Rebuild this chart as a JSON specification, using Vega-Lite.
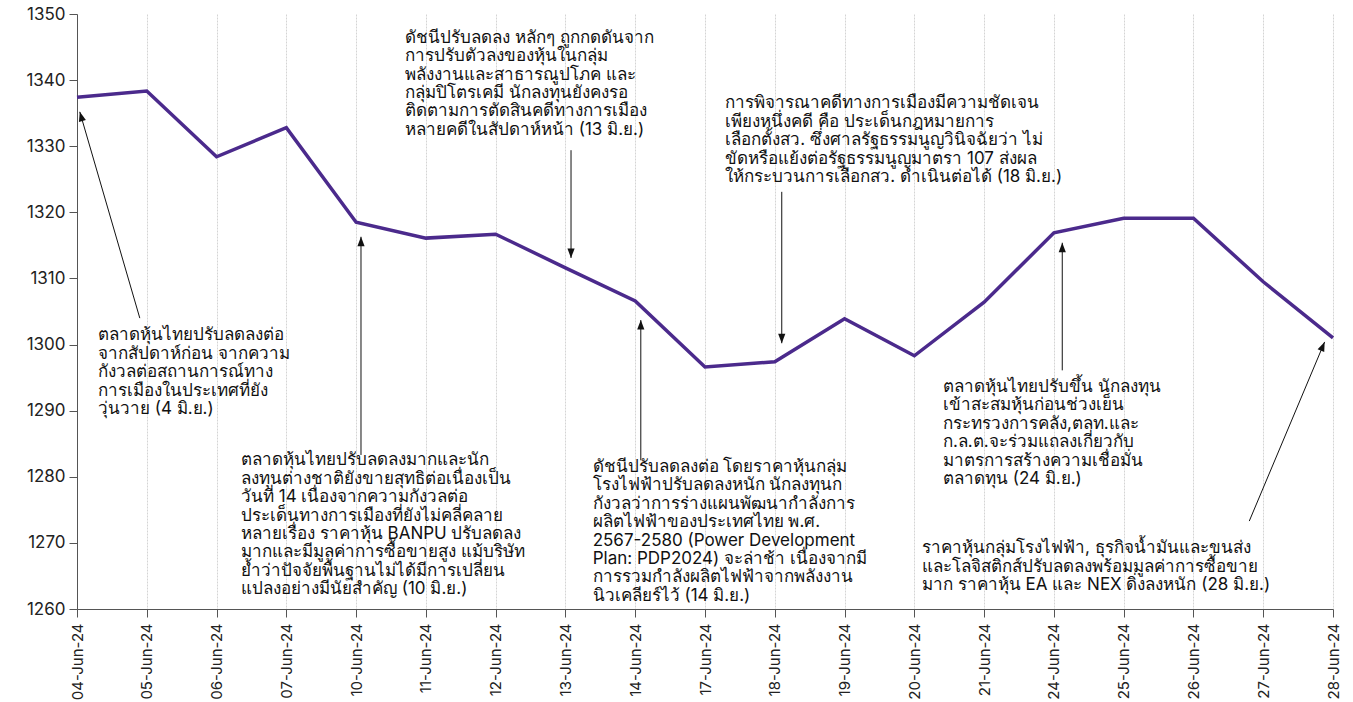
{
  "$schema": "https://vega.github.io/schema/vega-lite/v6.json",
  "width": 1256,
  "height": 595,
  "autosize": {"type": "none"},
  "padding": {"left": 77, "top": 14, "right": 20, "bottom": 93},
  "config": {"view": {"stroke": null}, "font": "Inter"},
  "datasets": {
    "series": [
      {"i": 0, "date": "04-Jun-24", "value": 1337.4},
      {"i": 1, "date": "05-Jun-24", "value": 1338.35},
      {"i": 2, "date": "06-Jun-24", "value": 1328.4},
      {"i": 3, "date": "07-Jun-24", "value": 1332.8},
      {"i": 4, "date": "10-Jun-24", "value": 1318.5},
      {"i": 5, "date": "11-Jun-24", "value": 1316.1},
      {"i": 6, "date": "12-Jun-24", "value": 1316.7},
      {"i": 7, "date": "13-Jun-24", "value": 1311.6},
      {"i": 8, "date": "14-Jun-24", "value": 1306.6},
      {"i": 9, "date": "17-Jun-24", "value": 1296.6},
      {"i": 10, "date": "18-Jun-24", "value": 1297.4},
      {"i": 11, "date": "19-Jun-24", "value": 1303.9},
      {"i": 12, "date": "20-Jun-24", "value": 1298.3},
      {"i": 13, "date": "21-Jun-24", "value": 1306.4},
      {"i": 14, "date": "24-Jun-24", "value": 1316.9},
      {"i": 15, "date": "25-Jun-24", "value": 1319.1},
      {"i": 16, "date": "26-Jun-24", "value": 1319.1},
      {"i": 17, "date": "27-Jun-24", "value": 1309.5},
      {"i": 18, "date": "28-Jun-24", "value": 1301.0}
    ],
    "arrows": [
      {"id": "a4", "x0": 0.9, "y0": 1304.0, "x1": 0.04, "y1": 1335.2},
      {"id": "a10", "x0": 4.07, "y0": 1283.3, "x1": 4.07, "y1": 1316.3},
      {"id": "a13", "x0": 7.08, "y0": 1329.4, "x1": 7.08, "y1": 1313.1},
      {"id": "a14", "x0": 8.08, "y0": 1282.5, "x1": 8.08, "y1": 1303.7},
      {"id": "a18", "x0": 10.1, "y0": 1323.1, "x1": 10.1, "y1": 1300.2},
      {"id": "a24", "x0": 14.12, "y0": 1296.1, "x1": 14.12, "y1": 1315.4},
      {"id": "a28", "x0": 16.8, "y0": 1273.3, "x1": 17.88, "y1": 1300.4}
    ],
    "notes": [
      {"x": 0.3, "y": 1302.6, "text": "ตลาดหุ้นไทยปรับลดลงต่อ\nจากสัปดาห์ก่อน จากความ\nกังวลต่อสถานการณ์ทาง\nการเมืองในประเทศที่ยัง\nวุ่นวาย (4 มิ.ย.)"},
      {"x": 2.35, "y": 1283.7, "text": "ตลาดหุ้นไทยปรับลดลงมากและนัก\nลงทุนต่างชาติยังขายสุทธิต่อเนื่องเป็น\nวันที่ 14 เนื่องจากความกังวลต่อ\nประเด็นทางการเมืองที่ยังไม่คลี่คลาย\nหลายเรื่อง ราคาหุ้น BANPU ปรับลดลง\nมากและมีมูลค่าการซื้อขายสูง แม้บริษัท\nย้ำว่าปัจจัยพื้นฐานไม่ได้มีการเปลี่ยน\nแปลงอย่างมีนัยสำคัญ (10 มิ.ย.)"},
      {"x": 4.7, "y": 1347.6, "text": "ดัชนีปรับลดลง หลักๆ ถูกกดดันจาก\nการปรับตัวลงของหุ้นในกลุ่ม\nพลังงานและสาธารณูปโภค และ\nกลุ่มปิโตรเคมี นักลงทุนยังคงรอ\nติดตามการตัดสินคดีทางการเมือง\nหลายคดีในสัปดาห์หน้า  (13 มิ.ย.)"},
      {"x": 7.39, "y": 1282.7, "text": "ดัชนีปรับลดลงต่อ โดยราคาหุ้นกลุ่ม\nโรงไฟฟ้าปรับลดลงหนัก นักลงทุนก\nกังวลว่าการร่างแผนพัฒนากำลังการ\nผลิตไฟฟ้าของประเทศไทย พ.ศ.\n2567-2580 (Power Development\nPlan: PDP2024) จะล่าช้า เนื่องจากมี\nการรวมกำลังผลิตไฟฟ้าจากพลังงาน\nนิวเคลียร์ไว้ (14 มิ.ย.)"},
      {"x": 9.29, "y": 1337.7, "text": "การพิจารณาคดีทางการเมืองมีความชัดเจน\nเพียงหนึ่งคดี คือ ประเด็นกฎหมายการ\nเลือกตั้งสว. ซึ่งศาลรัฐธรรมนูญวินิจฉัยว่า ไม่\nขัดหรือแย้งต่อรัฐธรรมนูญมาตรา 107 ส่งผล\nให้กระบวนการเลือกสว. ดำเนินต่อได้ (18 มิ.ย.)"},
      {"x": 12.41, "y": 1294.8, "text": "ตลาดหุ้นไทยปรับขึ้น นักลงทุน\nเข้าสะสมหุ้นก่อนช่วงเย็น\nกระทรวงการคลัง,ตลท.และ\nก.ล.ต.จะร่วมแถลงเกี่ยวกับ\nมาตรการสร้างความเชื่อมั่น\nตลาดทุน (24 มิ.ย.)"},
      {"x": 12.11, "y": 1270.4, "text": "ราคาหุ้นกลุ่มโรงไฟฟ้า, ธุรกิจน้ำมันและขนส่ง\nและโลจิสติกส์ปรับลดลงพร้อมมูลค่าการซื้อขาย\nมาก  ราคาหุ้น EA และ NEX ดิ่งลงหนัก (28 มิ.ย.)"}
    ]
  },
  "layer": [
    {
      "data": {"name": "series"},
      "mark": {"type": "line", "color": "#4b2a8c", "strokeWidth": 3.5},
      "encoding": {
        "x": {
          "field": "i", "type": "quantitative", "title": null,
          "scale": {"domain": [0, 18], "nice": false, "zero": false},
          "axis": {
            "values": [0,1,2,3,4,5,6,7,8,9,10,11,12,13,14,15,16,17,18],
            "labelExpr": "['04-Jun-24','05-Jun-24','06-Jun-24','07-Jun-24','10-Jun-24','11-Jun-24','12-Jun-24','13-Jun-24','14-Jun-24','17-Jun-24','18-Jun-24','19-Jun-24','20-Jun-24','21-Jun-24','24-Jun-24','25-Jun-24','26-Jun-24','27-Jun-24','28-Jun-24'][datum.value]",
            "labelAngle": -90, "labelAlign": "right", "labelBaseline": "middle",
            "labelFontSize": 15, "labelColor": "#222", "labelPadding": 6,
            "tickSize": 8, "tickColor": "#555", "domainColor": "#555",
            "grid": true, "gridColor": "#d4d4d4", "gridDash": [2, 1],
            "labelFlush": false, "labelOverlap": false
          }
        },
        "y": {
          "field": "value", "type": "quantitative", "title": null,
          "scale": {"domain": [1260, 1350], "nice": false, "zero": false},
          "axis": {
            "values": [1260,1270,1280,1290,1300,1310,1320,1330,1340,1350],
            "format": "d",
            "grid": false, "labelFontSize": 17, "labelColor": "#222",
            "tickSize": 8, "tickColor": "#555", "domainColor": "#555",
            "labelPadding": 4
          }
        }
      }
    },
    {
      "data": {"name": "arrows"},
      "mark": {"type": "rule", "color": "#111", "strokeWidth": 1},
      "encoding": {
        "x": {"field": "x0", "type": "quantitative", "title": null, "scale": {"domain": [0, 18], "nice": false, "zero": false}},
        "y": {"field": "y0", "type": "quantitative", "title": null, "scale": {"domain": [1260, 1350], "nice": false, "zero": false}},
        "x2": {"field": "x1"},
        "y2": {"field": "y1"}
      }
    },
    {
      "data": {"name": "arrows"},
      "transform": [{"filter": "indexof(['a10','a14','a24'], datum.id) >= 0"}],
      "mark": {"type": "point", "shape": "M0,0L-0.38,1L0.38,1Z", "filled": true, "color": "#111", "size": 360, "opacity": 1},
      "encoding": {
        "x": {"field": "x1", "type": "quantitative", "title": null},
        "y": {"field": "y1", "type": "quantitative", "title": null}
      }
    },
    {
      "data": {"name": "arrows"},
      "transform": [{"filter": "indexof(['a13','a18'], datum.id) >= 0"}],
      "mark": {"type": "point", "shape": "M0,0L-0.38,-1L0.38,-1Z", "filled": true, "color": "#111", "size": 360, "opacity": 1},
      "encoding": {
        "x": {"field": "x1", "type": "quantitative", "title": null},
        "y": {"field": "y1", "type": "quantitative", "title": null}
      }
    },
    {
      "data": {"name": "arrows"},
      "transform": [{"filter": "datum.id == 'a4'"}],
      "mark": {"type": "point", "shape": "M0,0L-0.38,1L0.38,1Z", "filled": true, "color": "#111", "size": 360, "opacity": 1, "angle": -16},
      "encoding": {
        "x": {"field": "x1", "type": "quantitative", "title": null},
        "y": {"field": "y1", "type": "quantitative", "title": null}
      }
    },
    {
      "data": {"name": "arrows"},
      "transform": [{"filter": "datum.id == 'a28'"}],
      "mark": {"type": "point", "shape": "M0,0L-0.38,1L0.38,1Z", "filled": true, "color": "#111", "size": 360, "opacity": 1, "angle": 23},
      "encoding": {
        "x": {"field": "x1", "type": "quantitative", "title": null},
        "y": {"field": "y1", "type": "quantitative", "title": null}
      }
    },
    {
      "data": {"name": "notes"},
      "mark": {"type": "text", "align": "left", "baseline": "top", "lineBreak": "\n", "fontSize": 17, "lineHeight": 18.4, "color": "#111"},
      "encoding": {
        "x": {"field": "x", "type": "quantitative", "title": null},
        "y": {"field": "y", "type": "quantitative", "title": null},
        "text": {"field": "text"}
      }
    }
  ]
}
